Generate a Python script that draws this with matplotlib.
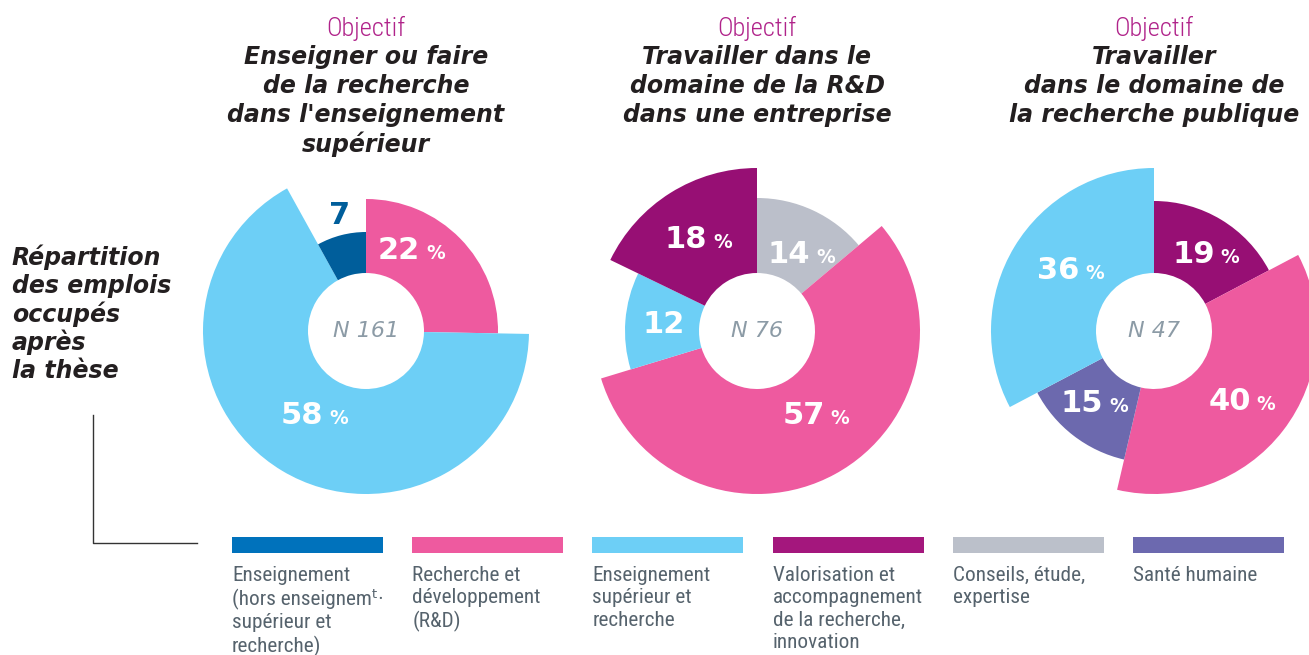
import matplotlib
matplotlib.use("Agg")
import matplotlib.pyplot as plt
from matplotlib.patches import Wedge, Rectangle
from matplotlib import font_manager
import numpy as np

# --- data ---
titles = [
    ["Enseigner ou faire", "de la recherche", "dans l'enseignement", "supérieur"],
    ["Travailler dans le", "domaine de la R&D", "dans une entreprise"],
    ["Travailler", "dans le domaine de", "la recherche publique"],
]
n_counts = [161, 76, 47]

# slices, clockwise from 12 o'clock
chart1_cats = ["rd", "sup", "ens"]
chart1_vals = [22, 58, 7]
chart2_cats = ["cons", "rd", "sup", "valo"]
chart2_vals = [14, 57, 12, 18]
chart3_cats = ["valo", "rd", "sante", "sup"]
chart3_vals = [19, 40, 15, 36]

legend_keys = ["ens", "rd", "sup", "valo", "cons", "sante"]
legend_labels = [
    "Enseignement\n(hors enseignemᵗ·\nsupérieur et\nrecherche)",
    "Recherche et\ndéveloppement\n(R&D)",
    "Enseignement\nsupérieur et\nrecherche",
    "Valorisation et\naccompagnement\nde la recherche,\ninnovation",
    "Conseils, étude,\nexpertise",
    "Santé humaine",
]
side_label = ["Répartition", "des emplois", "occupés", "après", "la thèse"]

# --- styles ---
pie_colors = {"ens": "#005E9B", "rd": "#EE5A9F", "sup": "#6DCFF6",
              "valo": "#970F74", "cons": "#BBBFCA", "sante": "#6C69AE"}
legend_colors = {"ens": "#0072BC", "rd": "#EE5A9F", "sup": "#6DCFF6",
                 "valo": "#A4177D", "cons": "#BBC0CA", "sante": "#6C69AF"}
outer_r = [[132, 163, 99], [133, 163, 132, 163], [130, 163, 132, 163]]
label_mode = [["pct", "pct", "out"], ["pct", "pct", "plain", "pct"],
              ["pct", "pct", "pct", "pct"]]
# label placement: angle shift from slice middle, distance from centre
label_nudge = [[-17, 1, 2], [4, -7, 1, 0], [2, 0, 3, 6]]
label_dist = [[95, 97, 121], [91, 101, 94, 111], [95, 111, 92, 105]]
centers_x = [366, 757, 1154]
center_y = 331
r_in = 58

names = {f.name for f in font_manager.fontManager.ttflist}
narrow = "Roboto"
for cand in ["Roboto Condensed", "Liberation Sans Narrow"]:
    if cand in names:
        narrow = cand
        break

fig = plt.figure(figsize=(13.09, 6.55), dpi=100)
ax = fig.add_axes([0, 0, 1, 1])
ax.set_xlim(0, 1309)
ax.set_ylim(655, 0)
ax.axis("off")

PX = 100 / 72.0
num_fs = 22
pct_fs = 13.5


def draw_label(x, y, num, mode, color):
    fpx = num_fs * PX
    yb = y + 0.73 * fpx / 2
    if mode == "pct":
        w_num = len(num) * 0.696 * fpx
        w_pct = 1.0 * pct_fs * PX
        gap = 6
        left = x - (w_num + gap + w_pct) / 2
        ax.text(left + w_num, yb, num, ha="right", va="baseline", color="white",
                fontsize=num_fs, fontweight="bold", family="DejaVu Sans")
        ax.text(left + w_num + gap, yb, "%", ha="left", va="baseline", color="white",
                fontsize=pct_fs, fontweight="bold", family="DejaVu Sans")
    else:
        ax.text(x, yb, num, ha="center", va="baseline", color=color,
                fontsize=num_fs, fontweight="bold", family="DejaVu Sans")


all_cats = [chart1_cats, chart2_cats, chart3_cats]
all_vals = [chart1_vals, chart2_vals, chart3_vals]

for k in range(3):
    cx = centers_x[k]
    vals = np.array(all_vals[k], dtype=float)
    angles = np.concatenate([[0], np.cumsum(vals / vals.sum() * 360)])
    for i, cat in enumerate(all_cats[k]):
        ro = outer_r[k][i]
        a0, a1 = angles[i], angles[i + 1]
        ax.add_patch(Wedge((cx, center_y), ro, a0 - 90, a1 - 90, width=ro - r_in,
                           facecolor=pie_colors[cat], edgecolor="none"))
        mid = np.deg2rad((a0 + a1) / 2 + label_nudge[k][i])
        mode = label_mode[k][i]
        col = pie_colors[cat] if mode == "out" else "white"
        rr = label_dist[k][i]
        lx = cx + rr * np.sin(mid)
        ly = center_y - rr * np.cos(mid)
        draw_label(lx, ly, str(all_vals[k][i]), mode, col)
    ax.text(cx, center_y, "N %d" % n_counts[k], ha="center", va="center",
            fontsize=16, style="italic", color="#8C9BA6", family="DejaVu Sans")

    ax.text(cx, 28, "Objectif", ha="center", va="center", fontsize=19,
            color="#B0238A", family=narrow, fontweight="light")
    for j, line in enumerate(titles[k]):
        ax.text(cx, 57 + 29 * j, line, ha="center", va="center", fontsize=17,
                fontweight="bold", style="italic", color="#231F20",
                family="DejaVu Sans")

for j, line in enumerate(side_label):
    ax.text(12, 257 + 28.5 * j, line, ha="left", va="center", fontsize=17,
            fontweight="bold", style="italic", color="#231F20", family="DejaVu Sans")

ax.plot([93, 93, 197], [415, 543, 543], color="#333333", lw=1)

for i, key in enumerate(legend_keys):
    x0 = 232 + 180.2 * i
    ax.add_patch(Rectangle((x0, 537), 151, 16, facecolor=legend_colors[key],
                           edgecolor="none"))
    ax.text(x0, 566, legend_labels[i], ha="left", va="top", fontsize=15.3,
            color="#56636D", family=[narrow, "DejaVu Sans"], linespacing=1.22)

fig.savefig("out.png", dpi=100)
